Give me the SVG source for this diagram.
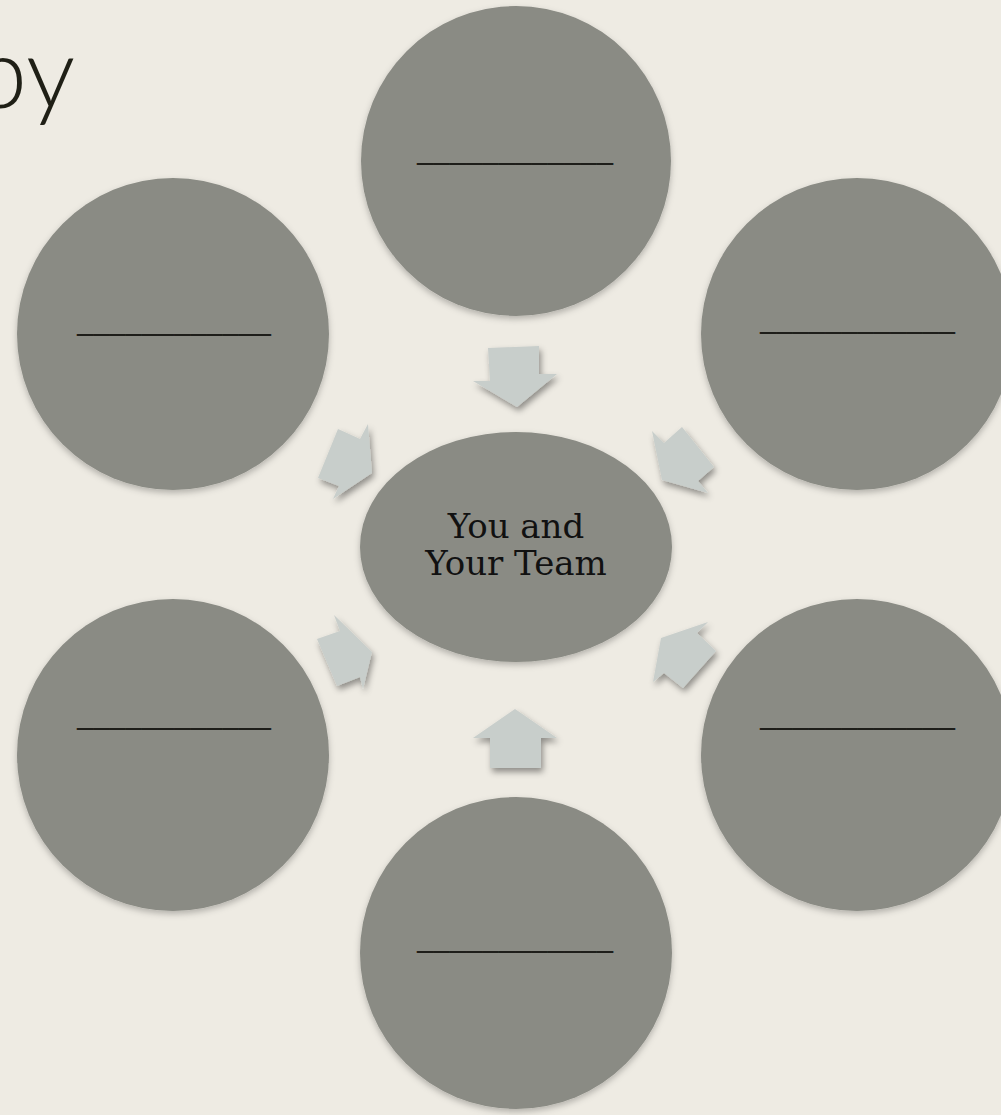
<svg xmlns="http://www.w3.org/2000/svg" width="1001" height="1115" viewBox="0 0 1001 1115">
  <style>
    .node { fill: #8A8B84; filter: url(#cshadow); }
    .arrow { fill: #C8CECB; filter: url(#ashadow); }
    .blank { font-family: "Liberation Serif", serif; font-size: 38px; fill: #1E1E1A; }
    .label { font-family: "DejaVu Serif", "Liberation Serif", serif; font-size: 34px; fill: #111111; text-anchor: middle; }
    .title { font-family: Lato, "Liberation Sans", sans-serif; font-weight: 300; font-size: 98px; fill: #1F1F16; }
  </style>
  <defs>
    <filter id="cshadow" x="-20%" y="-20%" width="140%" height="140%">
      <feDropShadow dx="0" dy="3" stdDeviation="3" flood-color="#000" flood-opacity="0.25"/>
    </filter>
    <filter id="ashadow" x="-30%" y="-30%" width="160%" height="160%">
      <feDropShadow dx="2" dy="4" stdDeviation="3" flood-color="#000" flood-opacity="0.4"/>
    </filter>
  </defs>
  <rect x="0" y="0" width="1001" height="1115" fill="#EEEBE3"/>
  <text class="title" x="-27" y="108">py</text>

  <g id="connectors">
    <polygon class="arrow" points="488,348 539,346 539,374 557,374 517,407 473,381 490,381"/>
    <polygon class="arrow" points="515,709 557,738 541,738 541,768 490,768 490,738 473,738"/>
    <polygon class="arrow" points="338,429 360,439 368,424 372,473 333,499 339,486 318,478"/>
    <polygon class="arrow" points="652,431 664,443 682,427 714,467 698,481 708,493 662,480"/>
    <polygon class="arrow" points="334,615 340,631 317,639 337,686 360,677 363,689 372,652"/>
    <polygon class="arrow" points="661,638 708,622 697,633 716,651 683,688 664,673 653,682"/>
  </g>

  <g id="node-top">
    <circle class="node" cx="516" cy="161" r="155"/>
    <text class="blank" x="417" y="160" textLength="196" lengthAdjust="spacingAndGlyphs">____________</text>
  </g>
  <g id="node-left-top">
    <circle class="node" cx="173" cy="334" r="156"/>
    <text class="blank" x="77" y="331" textLength="194" lengthAdjust="spacingAndGlyphs">____________</text>
  </g>
  <g id="node-right-top">
    <circle class="node" cx="857" cy="334" r="156"/>
    <text class="blank" x="760" y="329" textLength="195" lengthAdjust="spacingAndGlyphs">____________</text>
  </g>
  <g id="node-left-bottom">
    <circle class="node" cx="173" cy="755" r="156"/>
    <text class="blank" x="77" y="725" textLength="194" lengthAdjust="spacingAndGlyphs">____________</text>
  </g>
  <g id="node-right-bottom">
    <circle class="node" cx="857" cy="755" r="156"/>
    <text class="blank" x="760" y="725" textLength="195" lengthAdjust="spacingAndGlyphs">____________</text>
  </g>
  <g id="node-bottom">
    <circle class="node" cx="516" cy="953" r="156"/>
    <text class="blank" x="417" y="948" textLength="196" lengthAdjust="spacingAndGlyphs">____________</text>
  </g>
  <g id="node-center">
    <ellipse class="node" cx="516" cy="547" rx="156" ry="115"/>
    <text class="label" x="516" y="538">You and</text>
    <text class="label" x="516" y="575">Your Team</text>
  </g>
</svg>
